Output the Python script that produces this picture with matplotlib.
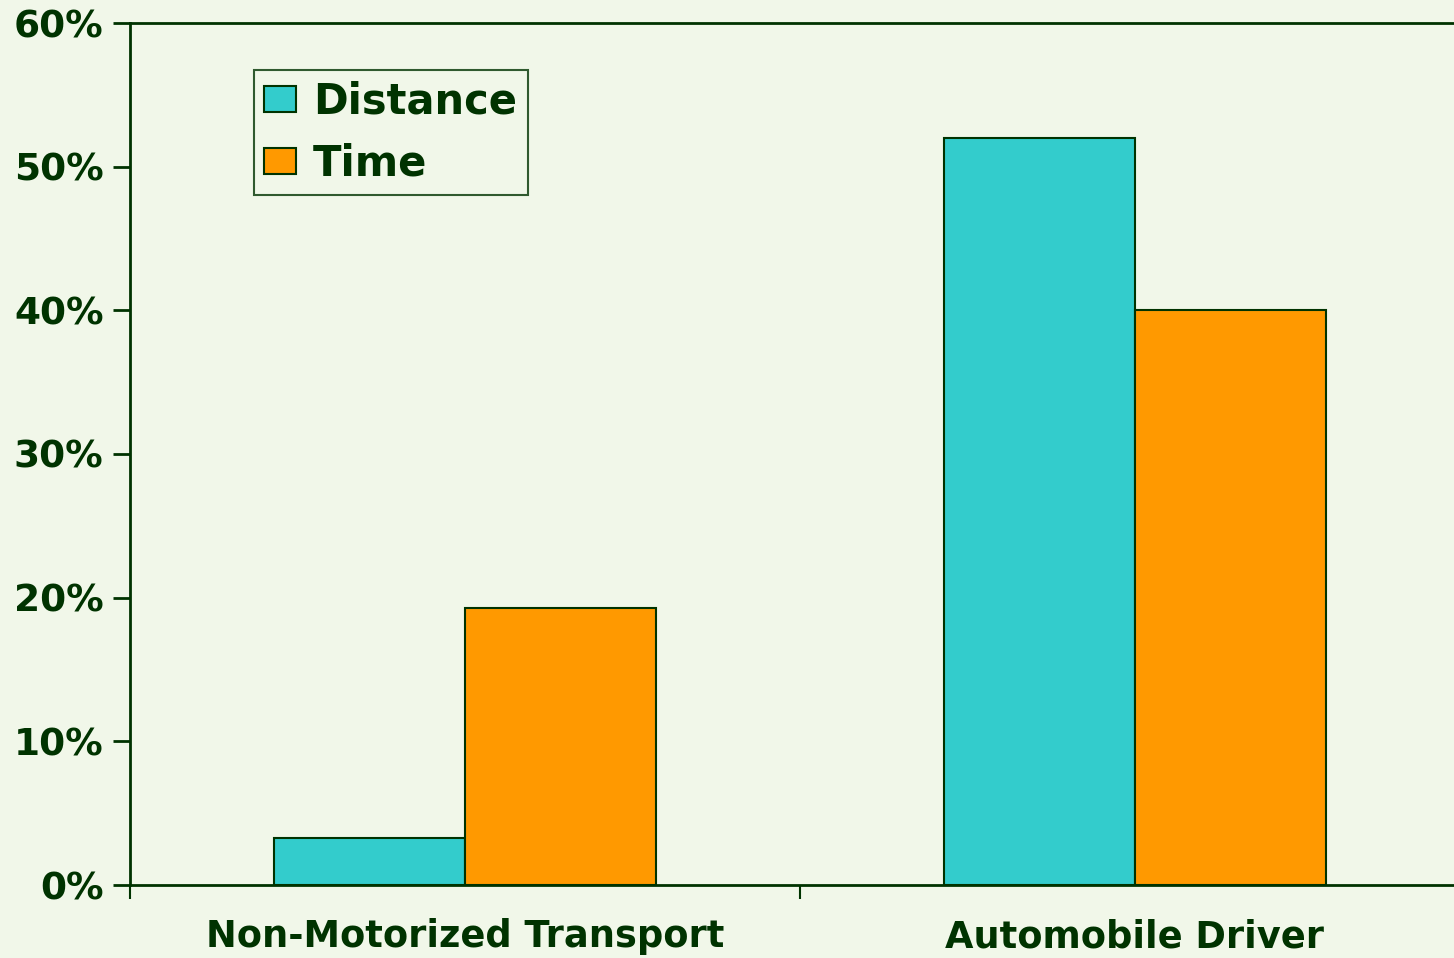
import numpy as np
import matplotlib.pyplot as plt
from matplotlib.ticker import FixedLocator, PercentFormatter

categories = ['Non-Motorized Transport', 'Automobile Driver']
distance = [3.3, 52.0]
time = [19.3, 40.0]
yticks = [0, 10, 20, 30, 40, 50, 60]

bg = '#F1F7E9'
dark = '#003300'

plt.rcParams['font.family'] = 'DejaVu Sans'
plt.rcParams['font.weight'] = 'bold'

fig = plt.figure(figsize=(14.54, 9.58), dpi=100, facecolor=bg)
ax = fig.add_axes([130/1454, 73/958, 1340/1454, 862/958])
ax.set_facecolor(bg)

x = np.arange(len(categories))
w = 0.285
ax.bar(x - w/2, distance, w, color='#33CCCC', edgecolor=dark, linewidth=1.5, label='Distance')
ax.bar(x + w/2, time, w, color='#FF9900', edgecolor=dark, linewidth=1.5, label='Time')

ax.set_xlim(-0.5, 1.5)
ax.set_ylim(0, 60)
ax.set_yticks(yticks)
ax.yaxis.set_major_formatter(PercentFormatter(decimals=0))
ax.set_xticks(x)
ax.set_xticklabels(categories)
ax.xaxis.set_minor_locator(FixedLocator([-0.5, 0.5, 1.5]))

for s in ['left', 'bottom', 'top']:
    ax.spines[s].set_color(dark)
    ax.spines[s].set_linewidth(2)
ax.spines['right'].set_visible(False)

ax.tick_params(axis='y', direction='out', length=12, width=2, color=dark,
               labelcolor=dark, labelsize=27, pad=7)
ax.tick_params(axis='x', which='major', length=0, labelcolor=dark, labelsize=26.5, pad=24)
ax.tick_params(axis='x', which='minor', direction='out', length=10, width=1.5, color=dark)

leg = ax.legend(loc='upper left', bbox_to_anchor=(124/1340, 1 - 47/862), fontsize=30,
                frameon=True, fancybox=False, edgecolor=dark, facecolor=bg,
                handlelength=0.77, handleheight=0.6, handletextpad=0.4,
                borderpad=0.25, labelspacing=0.48, borderaxespad=0)
leg.get_frame().set_linewidth(1.5)
for t in leg.get_texts():
    t.set_color(dark)

fig.savefig('out.png', dpi=100, facecolor=bg)
